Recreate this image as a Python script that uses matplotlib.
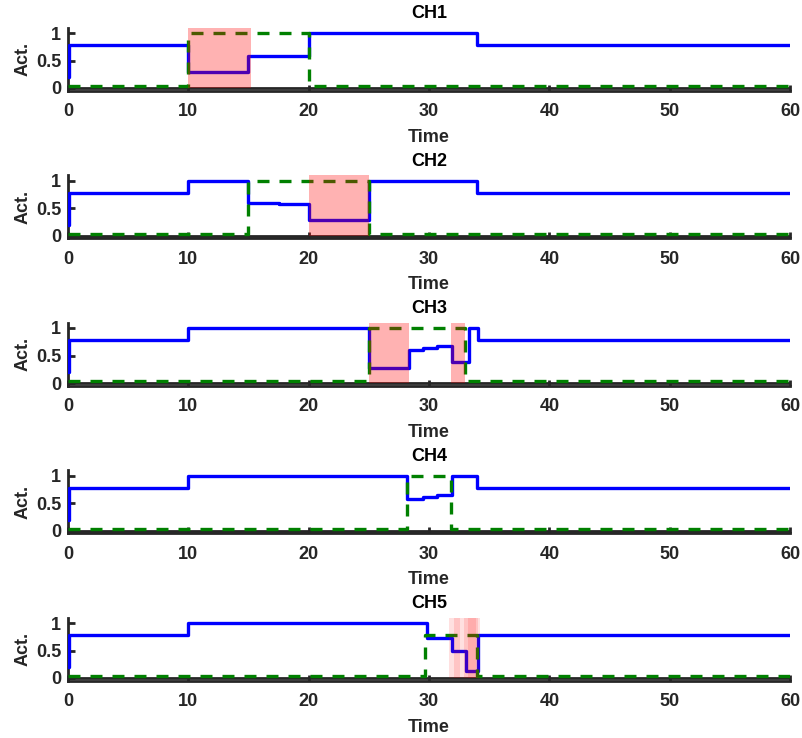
import matplotlib.pyplot as plt

plt.rcParams['font.family'] = ['Liberation Sans', 'DejaVu Sans']
plt.rcParams['font.weight'] = 'bold'

names = ['CH1', 'CH2', 'CH3', 'CH4', 'CH5']

# activity (blue), step breakpoints: value holds from t[k] to t[k+1]
act_t = [
    [0, 0.05, 10, 15, 20, 34, 60],
    [0, 0.05, 10, 15, 17.5, 20, 25, 34, 60],
    [0, 0.05, 10, 25, 28.3, 29.5, 30.7, 31.9, 33.3, 34.1, 60],
    [0, 0.05, 10, 28.2, 29.5, 30.7, 31.9, 34, 60],
    [0, 0.05, 10, 29.8, 31.9, 33.05, 34.1, 60],
]
act_v = [
    [0.2, 0.78, 0.3, 0.58, 1.0, 0.78, 0.78],
    [0.2, 0.78, 1.0, 0.6, 0.57, 0.28, 1.0, 0.78, 0.78],
    [0.2, 0.78, 1.0, 0.28, 0.6, 0.63, 0.67, 0.38, 1.0, 0.78, 0.78],
    [0.2, 0.78, 1.0, 0.58, 0.61, 0.64, 1.0, 0.78, 0.78],
    [0.2, 0.78, 1.0, 0.72, 0.5, 0.12, 0.78, 0.78],
]

# input (green dashed)
inp_t = [
    [0, 10, 20, 60],
    [0, 15, 25, 60],
    [0, 25, 33, 60],
    [0, 28.2, 31.8, 60],
    [0, 29.7, 34.0, 60],
]
inp_v = [
    [0.03, 1.0, 0.03, 0.03],
    [0.03, 1.0, 0.03, 0.03],
    [0.03, 1.0, 0.03, 0.03],
    [0.03, 1.0, 0.03, 0.03],
    [0.03, 0.78, 0.03, 0.03],
]

# red shaded intervals
shade = [
    [(10, 15.2)],
    [(20, 25)],
    [(25, 28.3), (31.8, 33.0)],
    [],
    [(31.7, 34.2), (32.1, 32.6), (32.9, 34.1), (33.2, 33.9)],
]
shade_alpha = [0.3, 0.3, 0.3, 0.3, 0.12]

xticks = [0, 10, 20, 30, 40, 50, 60]
yticks = [0, 0.5, 1]
yticklabels = ['0', '0.5', '1']

W, H = 803, 738
fig = plt.figure(figsize=(W / 100, H / 100), dpi=100)
dark = '#262626'

for i in range(5):
    top = 27.5 + 147.5 * i
    bot = 90.75 + 147.5 * i
    ax = fig.add_axes([68 / W, 1 - bot / H, 722 / W, (bot - top) / H])

    ax.plot(act_t[i], act_v[i], drawstyle='steps-post', color=(0, 0, 1), lw=2.4, zorder=3)
    ax.plot(inp_t[i], inp_v[i], drawstyle='steps-post', color=(0, 0.5, 0), lw=2.4,
            dashes=(3.6, 3.0), zorder=3)
    ax.axhline(0, color=dark, lw=2.0, zorder=2)
    for (a, b) in shade[i]:
        ax.axvspan(a, b, ymin=0.05 / 1.15, ymax=1, color=(1, 0, 0), alpha=shade_alpha[i],
                   lw=0, zorder=4)

    ax.set_xlim(0, 60)
    ax.set_ylim(-0.05, 1.1)
    ax.set_xticks(xticks)
    ax.set_yticks(yticks)
    ax.set_yticklabels(yticklabels)
    for s in ['top', 'right']:
        ax.spines[s].set_visible(False)
    for s in ['left', 'bottom']:
        ax.spines[s].set_color(dark)
        ax.spines[s].set_linewidth(2.0)
    ax.tick_params(axis='x', direction='in', length=4, width=2.0, color=dark,
                   labelsize=13, labelcolor=dark, pad=9)
    ax.tick_params(axis='y', direction='in', length=5, width=2.0, color=dark,
                   labelsize=13, labelcolor=dark, pad=5)
    ax.set_title(names[i], fontsize=13, fontweight='bold', color='black', pad=6.5)
    ax.set_xlabel('Time', fontsize=13, fontweight='bold', color=dark, labelpad=6)
    ax.set_ylabel('Act.', fontsize=13, fontweight='bold', color=dark, labelpad=3)

fig.savefig('out.png', dpi=100)
